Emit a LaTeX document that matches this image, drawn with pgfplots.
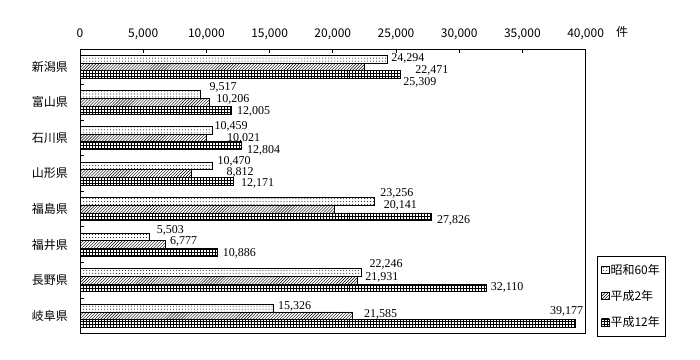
\documentclass[border=0pt]{standalone}
\usepackage{fontspec}
\usepackage{pgfplots}
\usepackage{pgfplotstable}
\pgfplotsset{compat=1.18}
\usetikzlibrary{patterns}
\setmainfont{Liberation Serif}
\newfontfamily\jp{Noto Sans CJK JP}
\newcommand\jpf{\jp\fontsize{12bp}{14bp}\selectfont}
\newcommand\numf{\rmfamily\fontsize{12bp}{14bp}\selectfont}

\pgfplotstableread{
i v dx up
0 24294 4 1
1 9517 9 7
2 10459 2 4
3 10470 5 4
4 23256 6 7.5
5 5503 7 6
6 22246 8 8.4
7 15326 4 1.7
}\tabA
\pgfplotstableread{
i v dx up
0 22471 51 -4
1 10206 7 3
2 10021 20 -1
3 8812 35 1
4 20141 49 4
5 6777 4 3
6 21931 7.7 2.5
7 21585 11 1.7
}\tabB
\pgfplotstableread{
i v dx up
0 25309 3 -8
1 12005 5 -1
2 12804 5 -5
3 12171 7 -2
4 27826 5 -3.5
5 10886 5 -1
6 32110 4.7 0
7 39177 -25.5 11.7
}\tabC

\begin{document}
\begin{tikzpicture}
\useasboundingbox (0,0) rectangle (700bp,360bp);
\begin{axis}[
  at={(80bp,26.5bp)}, anchor=south west,
  scale only axis, width=505.6bp, height=284.5bp,
  xbar, bar width=7.7bp,
  xmin=0, xmax=40000, ymin=-0.5, ymax=7.5, y dir=reverse,
  xtick={0,5000,...,40000},
  xtick pos=right, xticklabel pos=right,
  ytick={0,...,7},
  yticklabels={新潟県,富山県,石川県,山形県,福島県,福井県,長野県,岐阜県},
  minor ytick={0.5,1.5,...,6.5},
  ytick pos=left,
  tick align=inside, major tick length=4bp, minor tick length=4bp,
  every major y tick/.append style={draw=none},
  tick style={black, line width=0.8bp},
  axis line style={line width=0.8bp},
  scaled x ticks=false,
  /pgf/number format/1000 sep={,},
  /pgf/number format/assume math mode=true,
  xticklabel style={font=\jpf, anchor=base, inner sep=0pt, yshift=12bp},
  yticklabel style={font=\jpf, inner sep=0pt, xshift=-12bp},
  nodes near coords,
  visualization depends on={\thisrow{dx} \as \dx},
  visualization depends on={\thisrow{up} \as \up},
  every node near coord/.append style={font=\numf, anchor=west, inner sep=0pt, xshift=\dx bp, yshift=\up bp},
  legend image code/.code={\draw[#1, draw=black, line width=0.7bp] (0bp,-3.5bp) rectangle (7.5bp,3.5bp);},
  legend style={at={(axis description cs:1.0225,0.2724)}, anchor=north west, draw=black, line width=0.8bp,
    font=\jpf, row sep=12.5bp, inner xsep=4bp, inner ysep=7bp,
    nodes={inner sep=1bp}},
  legend cell align=left,
]
\addplot[draw=black, line width=0.7bp, pattern=dots, bar shift=7.7bp] table[x=v, y=i] {\tabA};
\addplot[draw=black, line width=0.7bp, pattern=north east lines, bar shift=0bp] table[x=v, y=i] {\tabB};
\addplot[draw=black, line width=0.7bp, pattern=grid, bar shift=-7.7bp] table[x=v, y=i] {\tabC};
\legend{昭和60年,平成2年,平成12年}
\end{axis}
\node[font=\jpf, anchor=base] at (622bp,323bp) {件};
\end{tikzpicture}
\end{document}
